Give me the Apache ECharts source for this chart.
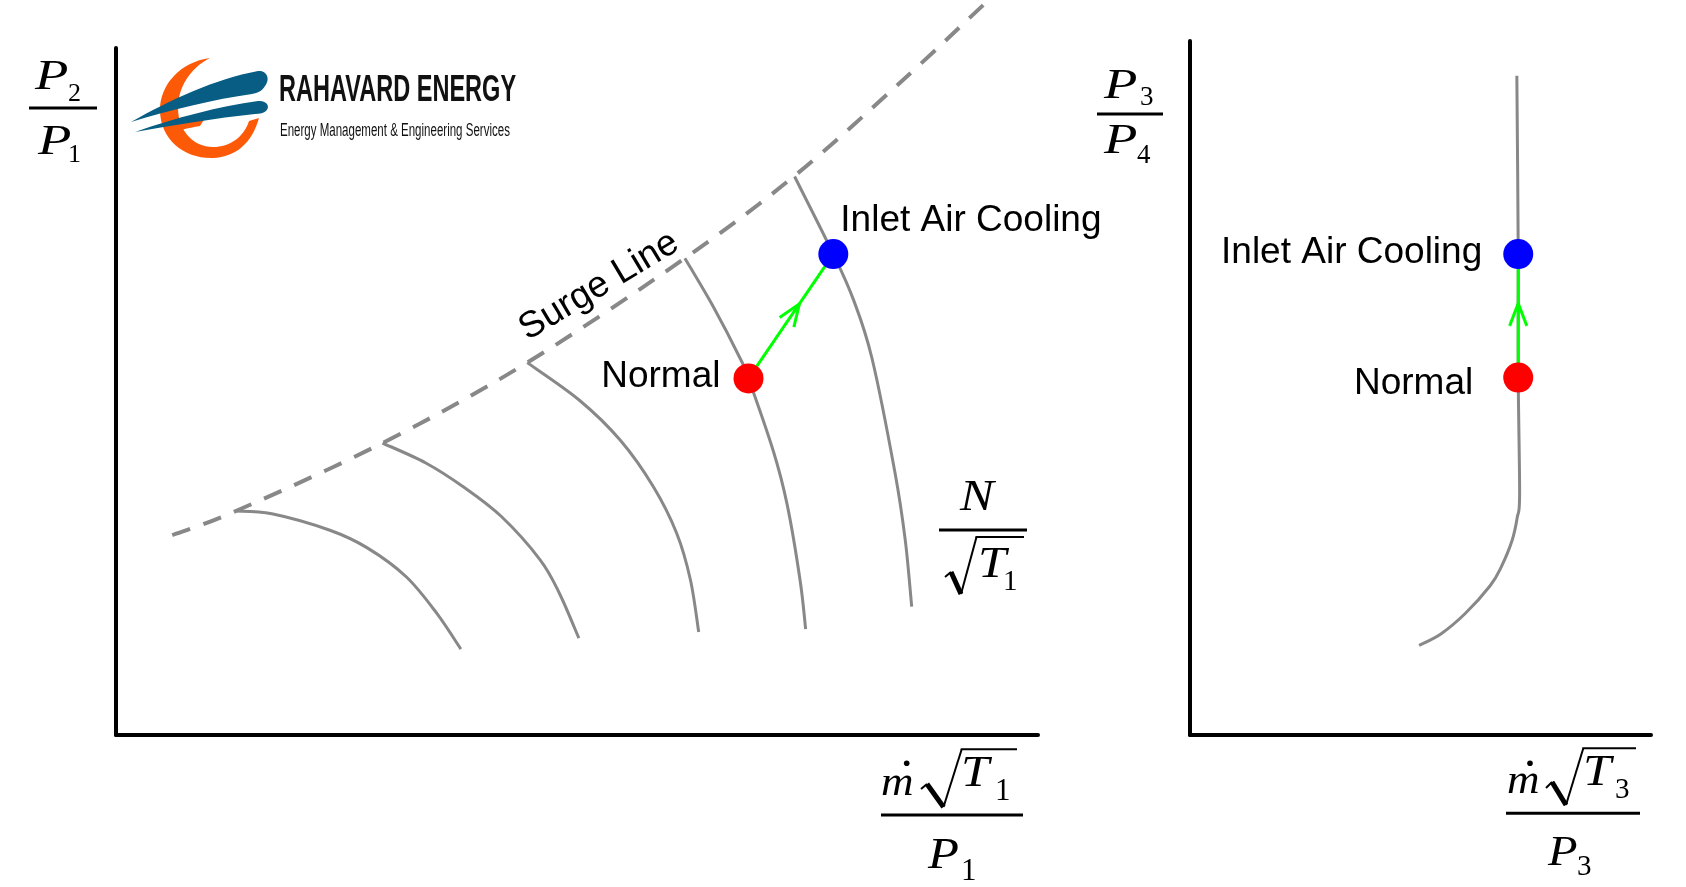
<!DOCTYPE html>
<html><head><meta charset="utf-8">
<script src="https://cdn.jsdelivr.net/npm/echarts@6/dist/echarts.min.js"></script>
<style>html,body{margin:0;padding:0;background:#fff}#chart{width:1686px;height:887px}</style>
</head><body><div id="chart"></div>
<script>
// ---- data (abstract axis units, 0..100 on each axis) ----
const surgeLine = [[6.1,29.1],[13.0,32.6],[28.9,42.5],[44.6,54.2],[61.7,69.4],[73.6,81.4],[85.0,94.9],[94.1,106.3]];
const speed1 = [[13.0,32.6],[16.9,32.2],[23.2,29.8],[27.3,27.2],[31.5,23.0],[34.8,17.7],[37.4,12.5]];
const speed2 = [[28.9,42.5],[33.6,39.6],[37.7,36.1],[41.8,31.8],[46.0,25.5],[48.1,20.6],[50.2,14.1]];
const speed3 = [[44.6,54.2],[50.2,48.8],[54.7,42.9],[58.3,36.1],[60.8,29.4],[62.3,22.6],[63.2,15.0]];
const speed4 = [[61.7,69.4],[64.8,62.3],[67.7,54.8],[68.6,51.9],[71.3,41.3],[72.8,33.5],[74.2,22.5],[74.8,15.4]];
const speed5 = [[73.6,81.3],[77.8,70.0],[80.0,63.3],[82.0,54.8],[84.5,38.1],[85.6,28.4],[86.3,18.7]];
const turbineLine = [[70.9,95.0],[71.2,69.3],[71.2,51.5],[71.5,34.7],[71.0,31.4],[69.9,28.1],[67.5,24.2],[65.1,21.5],[59.7,17.5],[54.5,14.6],[49.7,12.9]];
const compNormal = [68.6, 51.9];
const compCooled = [77.8, 70.0];
const turbNormal = [71.2, 51.5];
const turbCooled = [71.2, 69.3];
const pointNames = ['Normal', 'Inlet Air Cooling'];
const surgeName = 'Surge Line';

const SANS = '"Liberation Sans", Arial, sans-serif';
const SERIF = '"Liberation Serif", "Times New Roman", serif';
const GRAY = '#888888';

function arrowItem(params, api) {
  const a = api.coord([api.value(0), api.value(1)]);
  const b = api.coord([api.value(2), api.value(3)]);
  const dx = b[0] - a[0], dy = b[1] - a[1], L = Math.hypot(dx, dy);
  const vx = -dx / L, vy = -dy / L;
  const tip = [a[0] + dx * 0.6, a[1] + dy * 0.6];
  const ang = 21 * Math.PI / 180, len = 24, c = Math.cos(ang), s = Math.sin(ang);
  const b1 = [tip[0] + len * (vx * c - vy * s), tip[1] + len * (vx * s + vy * c)];
  const b2 = [tip[0] + len * (vx * c + vy * s), tip[1] + len * (-vx * s + vy * c)];
  return { type: 'group', children: [
    { type: 'line', shape: { x1: a[0], y1: a[1], x2: b[0], y2: b[1] }, style: { stroke: '#00ff00', lineWidth: 3 } },
    { type: 'polyline', shape: { points: [b1, tip, b2] }, style: { stroke: '#00ff00', lineWidth: 3, fill: null } }
  ]};
}

// smooth curve through the series points (Catmull-Rom drawn as cubic Beziers), positioned by the axes
function curveSeries(arr, gi, width, dash) {
  return { type: 'custom', xAxisIndex: gi, yAxisIndex: gi, data: arr, encode: { x: 0, y: 1 },
    clip: false, silent: true, z: 3,
    renderItem: function (params, api) {
      if (params.dataIndex !== 0) return null;
      const pts = [];
      for (let k = 0; k < arr.length; k++) pts.push(api.coord([arr[k][0], arr[k][1]]));
      const P = k => pts[Math.max(0, Math.min(pts.length - 1, k))];
      let d = 'M' + pts[0][0] + ',' + pts[0][1];
      for (let i = 0; i < pts.length - 1; i++) {
        const p0 = P(i - 1), p1 = P(i), p2 = P(i + 1), p3 = P(i + 2);
        d += ' C' + (p1[0] + (p2[0] - p0[0]) / 6) + ',' + (p1[1] + (p2[1] - p0[1]) / 6) + ' ' +
             (p2[0] - (p3[0] - p1[0]) / 6) + ',' + (p2[1] - (p3[1] - p1[1]) / 6) + ' ' + p2[0] + ',' + p2[1];
      }
      return { type: 'path', shape: { pathData: d }, style: { stroke: GRAY, lineWidth: width, fill: null, lineDash: dash || null } };
    } };
}

function axisPair(gi) {
  return { gridIndex: gi, type: 'value', min: 0, max: 100,
    axisLine: { show: true, onZero: false, lineStyle: { color: '#000', width: 4 } },
    axisTick: { show: false }, axisLabel: { show: false }, splitLine: { show: false } };
}
function dot(pt, gi, color, name, labelOpt) {
  return { type: 'scatter', xAxisIndex: gi, yAxisIndex: gi, data: [pt], symbolSize: 30, z: 6, silent: true,
    itemStyle: { color: color, opacity: 1 },
    label: Object.assign({ show: true, formatter: name, fontSize: 37, fontFamily: SANS, color: '#000' }, labelOpt) };
}
function T(x, y, text, size, italic, sx) {
  return { type: 'text', x: x, y: y, scaleX: sx || 1, silent: true,
    style: { text: text, fontSize: size, fontFamily: SERIF, fontStyle: italic ? 'italic' : 'normal',
      fill: '#000', align: 'left', verticalAlign: 'middle' } };
}
function Ln(x1, y1, x2, y2, w) {
  return { type: 'line', silent: true, shape: { x1: x1, y1: y1, x2: x2, y2: y2 }, style: { stroke: '#000', lineWidth: w || 3 } };
}
function radical(p0, p1, p2, p3, x4) {
  return [
    Ln(p0[0], p0[1], p1[0], p1[1], 2),
    Ln(p1[0], p1[1], p2[0], p2[1], 5),
    Ln(p2[0], p2[1], p3[0], p3[1], 2),
    Ln(p3[0] - 1, p3[1], x4, p3[1], 2)
  ];
}
function dotC(x, y) { return { type: 'circle', silent: true, shape: { cx: x, cy: y, r: 2.8 }, style: { fill: '#000' } }; }

const PS = 1.3; // horizontal stretch of math glyphs
const mathEls = [
  T(35, 77.5, 'P', 42, true, PS), T(68, 94, '2', 26, false), Ln(29, 108, 97, 108, 3),
  T(38, 142.5, 'P', 42, true, PS), T(68, 155, '1', 26, false),
  T(1104, 86.5, 'P', 42, true, PS), T(1140, 98, '3', 27, false), Ln(1097, 114, 1163, 114, 3),
  T(1104, 142.3, 'P', 42, true, PS), T(1137, 156, '4', 27, false),
  T(960, 498, 'N', 44, true, 1.15), Ln(939, 530, 1027, 530, 3),
  ...radical([945, 577], [951, 572], [961, 594], [976.5, 537], 1024),
  T(978, 565.3, 'T', 44, true, 1.15), T(1003, 582, '1', 29, false),
  T(881, 784.4, 'm', 41, true, 1.1), dotC(906.7, 763.3),
  ...radical([921, 789], [927, 784], [943.5, 807], [961.7, 749.3], 1017),
  T(961, 774.3, 'T', 44, true, 1.15), T(995, 792, '1', 31, false), Ln(881, 815, 1023, 815, 3),
  T(928, 856.7, 'P', 44, true, 1.15), T(961, 871.5, '1', 31, false),
  T(1507, 782.1, 'm', 41, true, 1.1), dotC(1530, 763.3),
  ...radical([1546, 788], [1552, 782], [1566, 805], [1583.3, 748.3], 1636),
  T(1583, 773.3, 'T', 44, true, 1.15), T(1615, 790.5, '3', 29, false), Ln(1506, 813.3, 1640, 813.3, 3),
  T(1548, 854, 'P', 42, true, 1.15), T(1577, 867.5, '3', 29, false)
];

const logoSvg = '<svg xmlns="http://www.w3.org/2000/svg" width="160" height="115" viewBox="120 50 160 115">' +
  '<path fill="#fd5a08" d="M210,58 C180,62 160,85 160,110 C160,140 185,159 213,158 C236,157 252,143 259,118 L249,121 C244,137 230,147 213,147 C193,147 178,130 178,108 C178,88 190,68 210,58 Z"/>' +
  '<path fill="#fd5a08" d="M168,128 C178,124 192,120 205,118 L200,126 C188,128 176,131 168,134 Z"/>' +
  '<path fill="#075d84" d="M131,122 C170,100 215,79 258,71 C266,70 271,78 265,86 C262,91 258,93 252,94 C215,99 170,110 131,122 Z"/>' +
  '<path fill="#075d84" d="M135,132 C175,118 220,106 258,101 C266,100 271,106 266,111 C264,113 260,114 255,114 C215,118 175,125 135,132 Z"/>' +
  '</svg>';

const logoEls = [
  { type: 'image', silent: true, style: { image: 'data:image/svg+xml;charset=utf-8,' + encodeURIComponent(logoSvg), x: 120, y: 50, width: 160, height: 115 } },
  { type: 'text', silent: true, x: 279, y: 91, scaleX: 0.636,
    style: { text: 'RAHAVARD ENERGY', fontSize: 37, fontWeight: 'bold', fontFamily: SANS, fill: '#111', align: 'left', verticalAlign: 'middle' } },
  { type: 'text', silent: true, x: 280, y: 131, scaleX: 0.64,
    style: { text: 'Energy Management & Engineering Services', fontSize: 18, fontFamily: SANS, fill: '#111', align: 'left', verticalAlign: 'middle' } }
];

const surgeText = { type: 'text', silent: true, x: 599, y: 286, rotation: 31 * Math.PI / 180,
  style: { text: surgeName, fontSize: 37, fontFamily: SANS, fill: '#000', align: 'center', verticalAlign: 'middle' } };

const chart = echarts.init(document.getElementById('chart'), null, { renderer: 'canvas' });
chart.setOption({
  backgroundColor: '#ffffff',
  animation: false,
  grid: [
    { left: 116, top: 48, width: 922, height: 687 },
    { left: 1190, top: 41, width: 461, height: 694 }
  ],
  xAxis: [axisPair(0), axisPair(1)],
  yAxis: [axisPair(0), axisPair(1)],
  series: [
    curveSeries(surgeLine, 0, 4, [19, 14]),
    curveSeries(speed1, 0, 3), curveSeries(speed2, 0, 3), curveSeries(speed3, 0, 3),
    curveSeries(speed4, 0, 3), curveSeries(speed5, 0, 3),
    curveSeries(turbineLine, 1, 3),
    { type: 'custom', xAxisIndex: 0, yAxisIndex: 0, renderItem: arrowItem, clip: false, silent: true, z: 4,
      encode: { x: [0, 2], y: [1, 3] }, data: [compNormal.concat(compCooled)] },
    { type: 'custom', xAxisIndex: 1, yAxisIndex: 1, renderItem: arrowItem, clip: false, silent: true, z: 4,
      encode: { x: [0, 2], y: [1, 3] }, data: [turbNormal.concat(turbCooled)] },
    dot(compNormal, 0, '#ff0000', pointNames[0], { position: 'left', distance: 13, offset: [0, -2] }),
    dot(compCooled, 0, '#0000ff', pointNames[1], { position: 'right', distance: 0, offset: [-8, -33] }),
    dot(turbNormal, 1, '#ff0000', pointNames[0], { position: 'left', distance: 30, offset: [0, 6] }),
    dot(turbCooled, 1, '#0000ff', pointNames[1], { position: 'left', distance: 21, offset: [0, -1] })
  ],
  graphic: { elements: logoEls.concat(mathEls, [surgeText]) }
});
</script></body></html>
